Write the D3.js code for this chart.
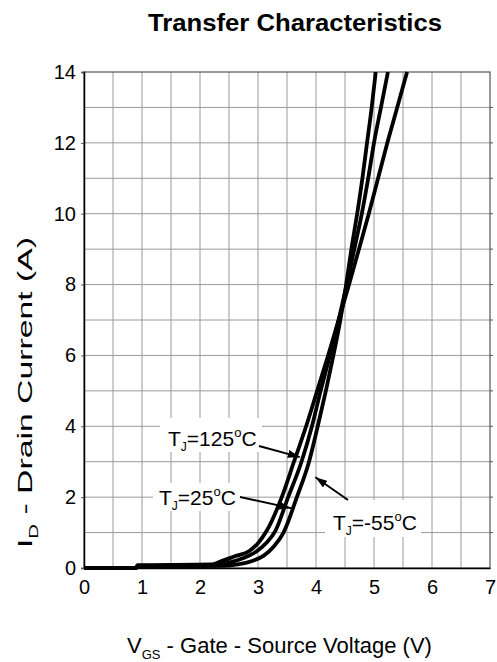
<!DOCTYPE html>
<html><head><meta charset="utf-8">
<script src="https://cdn.jsdelivr.net/npm/d3@7"></script>
<style>body{margin:0;background:#fff} svg{display:block}</style>
</head><body>
<svg id="chart" width="497" height="662"></svg>
<script>
// Axis ticks
const xTicks = [0, 1, 2, 3, 4, 5, 6, 7];
const yTicks = [0, 2, 4, 6, 8, 10, 12, 14];

// Gate-source voltage (V) and drain current (A) for each junction temperature
const vgs125 = [0, 0.9, 0.92, 2.2, 2.35, 2.6, 2.85, 3.0, 3.15, 3.41, 3.62, 3.83, 4.02, 4.21, 4.39, 4.57, 4.74, 4.91, 5.07, 5.23, 5.40, 5.57];
const id125  = [0, 0,   0.08, 0.1, 0.18, 0.33, 0.48, 0.7, 1.05, 2.0,  3.0,  4.0,  5.0,  6.0,  7.0,  8.0,  9.0,  10,   11,   12,   13,   14];

const vgs25 = [0, 0.9, 0.92, 2.3, 2.5, 2.75, 3.0, 3.15, 3.3, 3.52, 3.75, 3.93, 4.08, 4.24, 4.39, 4.53, 4.66, 4.79, 4.90, 5.0, 5.12, 5.24];
const id25  = [0, 0,   0.06, 0.08, 0.15, 0.28, 0.5, 0.72, 1.05, 2.0,  3.0,  4.0,  5.0,  6.0,  7.0,  8.0,  9.0,  10,   11,   12,  13,   14];

const vgsM55 = [0, 0.9, 0.92, 2.4, 2.65, 2.9, 3.1, 3.28, 3.44, 3.67, 3.88, 4.03, 4.17, 4.30, 4.42, 4.52, 4.61, 4.71, 4.80, 4.88, 4.96, 5.03];
const idM55  = [0, 0,   0.04, 0.06, 0.1, 0.2, 0.35, 0.62, 1.0, 2.0,  3.0,  4.0,  5.0,  6.0,  7.0,  8.0,  9.0,  10,   11,   12,   13,   14];

// Curve labels: temperature text and the point on the curve the arrow points to
const labelTemps = ["125", "25", "-55"];
const labelTargetV = [3.72, 3.57, 3.99];
const labelTargetI = [3.13, 1.69, 2.56];

const svg = d3.select("#chart");
const font = "'Liberation Sans', Arial, Helvetica, sans-serif";

const x = d3.scaleLinear().domain([0, 7]).range([84, 490]);
const y = d3.scaleLinear().domain([0, 14]).range([568, 72]);

// Grid (every 0.5 V and every 1 A)
const g = svg.append("g");
g.selectAll("line.gx").data(d3.range(1, 14).map(d => d / 2)).join("line")
  .attr("x1", d => x(d)).attr("x2", d => x(d)).attr("y1", y(0)).attr("y2", y(14))
  .attr("stroke", "#9a9a9a").attr("stroke-width", 1);
g.selectAll("line.gy").data(d3.range(1, 14)).join("line")
  .attr("x1", x(0)).attr("x2", x(7)).attr("y1", d => y(d)).attr("y2", d => y(d))
  .attr("stroke", "#9a9a9a").attr("stroke-width", 1);

// Frame
svg.append("rect").attr("x", x(0)).attr("y", y(14)).attr("width", x(7) - x(0)).attr("height", y(0) - y(14))
  .attr("fill", "none").attr("stroke", "#555").attr("stroke-width", 1.2);

// Small outward ticks on the right edge
svg.append("g").selectAll("line").data(d3.range(1, 14)).join("line")
  .attr("x1", x(7)).attr("x2", x(7) + 3).attr("y1", d => y(d)).attr("y2", d => y(d))
  .attr("stroke", "#555");

// Axes
const yAxis = d3.axisLeft(y).tickValues(yTicks).tickFormat(d3.format("d")).tickSize(3).tickPadding(5);
const xAxis = d3.axisBottom(x).tickValues(xTicks).tickFormat(d3.format("d")).tickSize(0).tickPadding(12);
const ya = svg.append("g").attr("transform", `translate(${x(0)},0)`).call(yAxis);
const xa = svg.append("g").attr("transform", `translate(0,${y(0)})`).call(xAxis);
[ya, xa].forEach(a => {
  a.select(".domain").attr("stroke", "#000").attr("stroke-width", 1.5);
  a.selectAll("text").attr("font-family", font).attr("font-size", 20).attr("fill", "#000");
  a.selectAll(".tick line").attr("stroke", "#555");
});

// Curves
const line = d3.line().x(d => x(d[0])).y(d => y(d[1])).curve(d3.curveMonotoneX);
const series = [d3.zip(vgs125, id125), d3.zip(vgs25, id25), d3.zip(vgsM55, idM55)];
svg.append("g").selectAll("path").data(series).join("path")
  .attr("d", line).attr("fill", "none").attr("stroke", "#000")
  .attr("stroke-width", 3.8).attr("stroke-linejoin", "round");

// Labels with arrows
const labelBox = [[160, 418, 102, 34], [153, 483, 87, 28], [325, 500, 96, 37]];
const labelText = [[168, 446], [159, 505], [333, 530]];
const arrowStart = [[259, 446], [240, 497], [348, 500]];

svg.append("defs").append("marker").attr("id", "ah")
  .attr("viewBox", "0 0 12 8").attr("refX", 12).attr("refY", 4)
  .attr("markerWidth", 12).attr("markerHeight", 8).attr("markerUnits", "userSpaceOnUse")
  .attr("orient", "auto")
  .append("path").attr("d", "M0,0 L12,4 L0,8 Z").attr("fill", "#000");

labelTemps.forEach((t, i) => {
  const [bx, by, bw, bh] = labelBox[i];
  svg.append("rect").attr("x", bx).attr("y", by).attr("width", bw).attr("height", bh).attr("fill", "#fff");
  const tx = svg.append("text").attr("x", labelText[i][0]).attr("y", labelText[i][1])
    .attr("font-family", font).attr("font-size", 21).attr("fill", "#000");
  tx.append("tspan").text("T");
  tx.append("tspan").attr("font-size", 12).attr("dy", 5).text("J");
  tx.append("tspan").attr("dy", -5).text("=" + t);
  tx.append("tspan").attr("font-size", 13).attr("dy", -9).text("o");
  tx.append("tspan").attr("dy", 9).text("C");
  svg.append("line")
    .attr("x1", arrowStart[i][0]).attr("y1", arrowStart[i][1])
    .attr("x2", x(labelTargetV[i])).attr("y2", y(labelTargetI[i]))
    .attr("stroke", "#000").attr("stroke-width", 2).attr("marker-end", "url(#ah)");
});

// Title
svg.append("text").attr("x", 148).attr("y", 31)
  .attr("font-family", font).attr("font-size", 23).attr("font-weight", "bold")
  .attr("textLength", 294).attr("lengthAdjust", "spacingAndGlyphs")
  .text("Transfer Characteristics");

// X axis title
const xt = svg.append("text").attr("x", 127).attr("y", 653)
  .attr("font-family", font).attr("font-size", 22).attr("fill", "#000");
xt.append("tspan").text("V");
xt.append("tspan").attr("font-size", 13).attr("dy", 6).text("GS");
xt.append("tspan").attr("dy", -6).text(" - Gate - Source Voltage (V)");

// Y axis title (stretched along its length)
const yt = svg.append("text").attr("transform", "translate(32,548) rotate(-90)")
  .attr("font-family", font).attr("font-size", 20).attr("fill", "#000")
  .attr("textLength", 311).attr("lengthAdjust", "spacingAndGlyphs");
yt.append("tspan").text("I");
yt.append("tspan").attr("font-size", 12).attr("dy", 6).text("D");
yt.append("tspan").attr("dy", -6).text(" - Drain Current (A)");
</script>
</body></html>
